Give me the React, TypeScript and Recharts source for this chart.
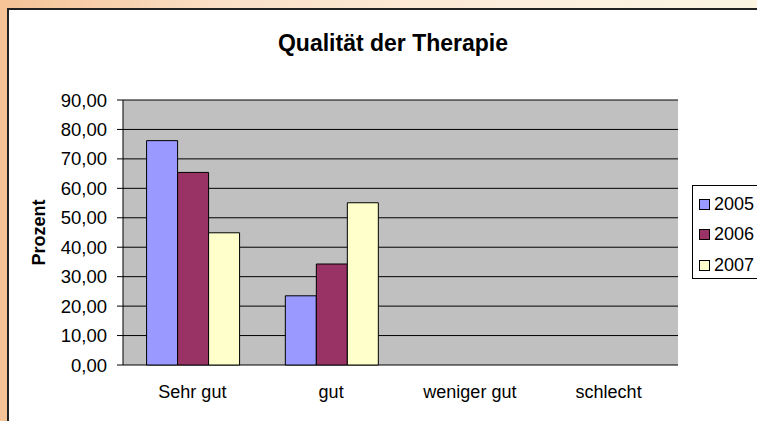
import { Bar, BarChart, CartesianGrid, XAxis, YAxis } from "recharts";

const KATEGORIEN = ["Sehr gut", "gut", "weniger gut", "schlecht"];
const JAHRE = ["2005", "2006", "2007"];
const WERTE_2005 = [76.2, 23.5, null, null];
const WERTE_2006 = [65.4, 34.3, null, null];
const WERTE_2007 = [44.9, 55.1, null, null];
const Y_TICKS = [0, 10, 20, 30, 40, 50, 60, 70, 80, 90];
const KANTEN = [0, 1, 2, 3, 4];

const FARBEN: Record<string, string> = {
  "2005": "#9999FF",
  "2006": "#993366",
  "2007": "#FFFFCC",
};

const FONT = '"Liberation Sans", Arial, sans-serif';

const data = KATEGORIEN.map((k, i) => ({
  kategorie: k,
  "2005": WERTE_2005[i],
  "2006": WERTE_2006[i],
  "2007": WERTE_2007[i],
}));

function formatWert(v: number): string {
  return v.toFixed(2).replace(".", ",");
}

function Legende() {
  return (
    <div
      style={{
        position: "absolute",
        left: 692,
        top: 185,
        border: "1px solid #000",
        background: "#fff",
        width: 80,
        height: 94,
        boxSizing: "border-box",
        paddingTop: 3,
      }}
    >
      {JAHRE.map((j) => (
        <div
          key={j}
          style={{ display: "flex", alignItems: "center", height: 30.5, fontSize: 18, fontFamily: FONT, color: "#000" }}
        >
          <span
            style={{
              display: "inline-block",
              width: 9,
              height: 9,
              marginLeft: 6,
              marginRight: 4,
              background: FARBEN[j],
              border: "1px solid #000",
            }}
          />
          {j}
        </div>
      ))}
    </div>
  );
}

export default function App() {
  return (
    <div
      style={{
        position: "absolute",
        left: 0,
        top: 0,
        width: 757,
        height: 421,
        overflow: "hidden",
        background: "linear-gradient(90deg, #f5c396 0%, #fbe0c8 30%, #fdeedd 70%, #fbf5e2 100%)",
      }}
    >
      <div
        style={{
          position: "absolute",
          left: 7,
          top: 8,
          width: 760,
          height: 420,
          background: "#fff",
          borderLeft: "2px solid #222",
          borderTop: "2px solid #222",
        }}
      />
      <div
        style={{
          position: "absolute",
          left: 0,
          top: 30,
          width: 786,
          textAlign: "center",
          fontFamily: FONT,
          fontWeight: "bold",
          fontSize: 23,
          lineHeight: "26px",
          color: "#000",
        }}
      >
        Qualität der Therapie
      </div>
      <div style={{ position: "absolute", left: 0, top: 0 }}>
        <BarChart
          width={757}
          height={421}
          data={data}
          margin={{ top: 100, right: 79, bottom: 0, left: 0 }}
          barCategoryGap="17%"
          barGap={0}
        >
          <CartesianGrid vertical={false} stroke="#000" fill="#C0C0C0" strokeWidth={1} />
          <XAxis
            xAxisId="kanten"
            type="number"
            domain={[0, 4]}
            ticks={KANTEN}
            tick={false}
            tickSize={6}
            height={0}
            axisLine={{ stroke: "#000" }}
            tickLine={{ stroke: "#000" }}
          />
          <XAxis
            dataKey="kategorie"
            height={56}
            interval={0}
            axisLine={false}
            tickLine={false}
            tickMargin={14}
            tick={{ fontSize: 18, fontFamily: FONT, fill: "#000" }}
          />
          <YAxis
            domain={[0, 90]}
            ticks={Y_TICKS}
            interval={0}
            tickFormatter={formatWert}
            width={123}
            tickSize={6}
            tickMargin={10}
            axisLine={{ stroke: "#000" }}
            tickLine={{ stroke: "#000" }}
            tick={{ fontSize: 18.5, fontFamily: FONT, fill: "#000" }}
            label={{
              value: "Prozent",
              angle: -90,
              position: "insideLeft",
              offset: 39,
              style: { fontSize: 18, fontFamily: FONT, fontWeight: "bold", fill: "#000", textAnchor: "middle" },
            }}
          />
          <YAxis
            yAxisId="rechts"
            orientation="right"
            domain={[0, 90]}
            width={0}
            tick={false}
            tickLine={false}
            axisLine={{ stroke: "#808080" }}
          />
          {JAHRE.map((j) => (
            <Bar key={j} dataKey={j} fill={FARBEN[j]} stroke="#000" strokeWidth={1} isAnimationActive={false} />
          ))}
        </BarChart>
      </div>
      <Legende />
    </div>
  );
}
